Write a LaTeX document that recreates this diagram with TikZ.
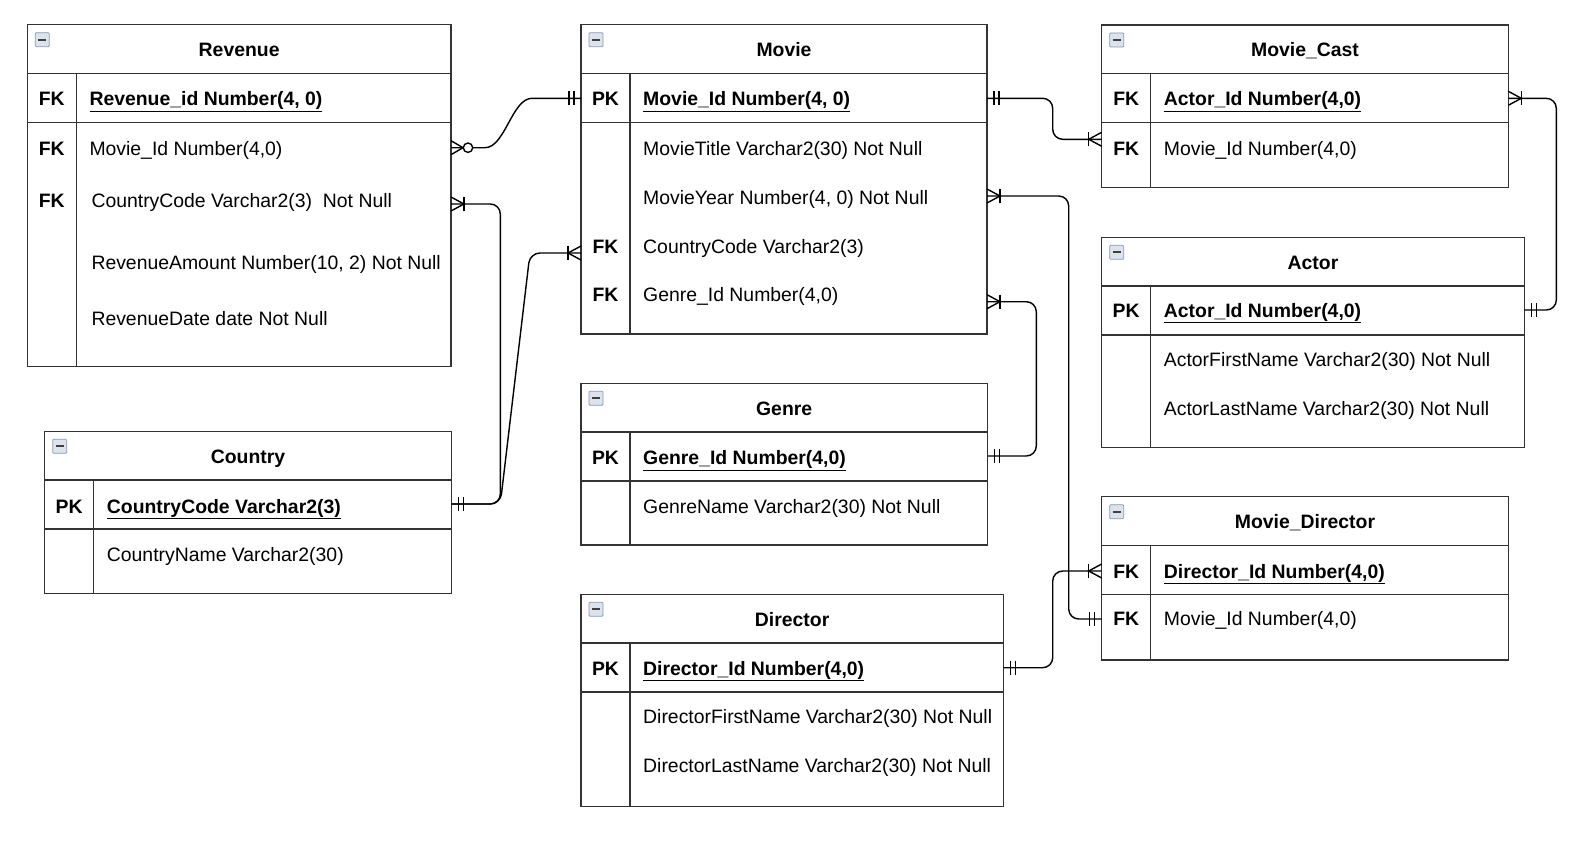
\documentclass[tikz,border=0pt]{standalone}
\usepackage{fontspec}
\setmainfont{Liberation Sans}
\usetikzlibrary{calc}
\definecolor{iconedge}{HTML}{8A9AB0}
\definecolor{iconfill}{HTML}{DCE3EC}
\definecolor{boxline}{HTML}{333333}
\newcommand\fs{\fontsize{19.4}{23}\selectfont}
\newcommand\ertable[6]{%
  \node[tbl, minimum width=#4pt, minimum height=#5pt] (#1) at (#2,#3) {};
  \draw[sep] ($(#1.north west)+(0,48.7)$) -- ($(#1.north east)+(0,48.7)$);
  \draw[sep] ($(#1.north west)+(0,97.5)$) -- ($(#1.north east)+(0,97.5)$);
  \draw[sep] ($(#1.north west)+(49,48.7)$) -- ($(#1.south west)+(49,0)$);
  \draw[icon] ($(#1.north west)+(8,8)$) rectangle ($(#1.north west)+(22,22)$);
  \draw[iconbar] ($(#1.north west)+(11,15)$) -- ($(#1.north west)+(19,15)$);
  \node[ttl] at ($(#1.north)+(0,32)$) {#6};
}
\newcommand\errow[5]{% table, cap-centre y, key, text, text x offset
  \node[key] at ($(#1.west |- 0,#2)+(24.5,7)$) {#3};
  \node[fld] at ($(#1.west |- 0,#2)+(#5,7)$) {#4};
}
\newcommand\erMany[2]{%
  \draw[ermk] ($(#1)+(0,-7)$) -- ($(#1)+(#2*13,0)$) -- ($(#1)+(0,7)$);
  \draw[ermk] ($(#1)+(#2*13,-7)$) -- ($(#1)+(#2*13,7)$);}
\newcommand\erZeroMany[2]{%
  \draw[ermk] ($(#1)+(0,-7)$) -- ($(#1)+(#2*12,0)$) -- ($(#1)+(0,7)$);
  \draw[ermk, fill=white] ($(#1)+(#2*17,0)$) circle[radius=4.7];}
\newcommand\erOne[2]{%
  \draw[ermk] ($(#1)+(#2*7,-7)$) -- ($(#1)+(#2*7,7)$);
  \draw[ermk] ($(#1)+(#2*12,-7)$) -- ($(#1)+(#2*12,7)$);}
\begin{document}
\begin{tikzpicture}[x=1pt,y=-1pt,
  tbl/.style={draw=boxline, line width=1.4pt, inner sep=0pt, outer sep=0pt, anchor=north west, rectangle},
  sep/.style={draw=boxline, line width=1.4pt},
  icon/.style={draw=iconedge, fill=iconfill, line width=0.8pt, rounded corners=1pt},
  iconbar/.style={draw=black!75, line width=2pt},
  ttl/.style={font=\fs\bfseries, anchor=base, inner sep=0pt},
  key/.style={font=\fs\bfseries, anchor=base, inner sep=0pt},
  fld/.style={font=\fs, anchor=base west, inner sep=0pt},
  conn/.style={draw=black, line width=1.4pt, rounded corners=10pt},
  ermk/.style={draw=black, line width=1.4pt}]
\useasboundingbox[fill=white] (0,0) rectangle (1596,843);

% ---------- tables ----------
\ertable{revenue}{27.3}{24.7}{423.7}{342}{Revenue}
\errow{revenue}{99}{FK}{\textbf{\underline{Revenue\_id Number(4, 0)}}}{62}
\errow{revenue}{148.3}{FK}{Movie\_Id Number(4,0)}{62}
\errow{revenue}{200}{FK}{CountryCode Varchar2(3)\ \ Not Null}{64}
\node[fld] at ($(revenue.west |- 0,262)+(64,7)$) {RevenueAmount Number(10, 2) Not Null};
\node[fld] at ($(revenue.west |- 0,318)+(64,7)$) {RevenueDate date Not Null};

\ertable{movie}{581}{24.7}{406}{309.3}{Movie}
\errow{movie}{99}{PK}{\textbf{\underline{Movie\_Id Number(4, 0)}}}{62}
\node[fld] at ($(movie.west |- 0,148)+(62,7)$) {MovieTitle Varchar2(30) Not Null};
\node[fld] at ($(movie.west |- 0,197)+(62,7)$) {MovieYear Number(4, 0) Not Null};
\errow{movie}{246}{FK}{CountryCode Varchar2(3)}{62}
\errow{movie}{294}{FK}{Genre\_Id Number(4,0)}{62}

\ertable{moviecast}{1101.7}{25}{406.6}{162.7}{Movie\_Cast}
\errow{moviecast}{99}{FK}{\textbf{\underline{Actor\_Id Number(4,0)}}}{62}
\errow{moviecast}{148.3}{FK}{Movie\_Id Number(4,0)}{62}

\ertable{actor}{1101.7}{237.3}{422.6}{210.4}{Actor}
\errow{actor}{310}{PK}{\textbf{\underline{Actor\_Id Number(4,0)}}}{62}
\node[fld] at ($(actor.west |- 0,359.3)+(62,7)$) {ActorFirstName Varchar2(30) Not Null};
\node[fld] at ($(actor.west |- 0,408.3)+(62,7)$) {ActorLastName Varchar2(30) Not Null};

\ertable{moviedirector}{1101.7}{496.7}{406.6}{163.3}{Movie\_Director}
\errow{moviedirector}{571}{FK}{\textbf{\underline{Director\_Id Number(4,0)}}}{62}
\errow{moviedirector}{618.5}{FK}{Movie\_Id Number(4,0)}{62}

\ertable{genre}{581}{383.3}{406.3}{161.7}{Genre}
\errow{genre}{457.5}{PK}{\textbf{\underline{Genre\_Id Number(4,0)}}}{62}
\node[fld] at ($(genre.west |- 0,506)+(62,7)$) {GenreName Varchar2(30) Not Null};

\ertable{director}{581}{594.3}{422.3}{212.4}{Director}
\errow{director}{668}{PK}{\textbf{\underline{Director\_Id Number(4,0)}}}{62}
\node[fld] at ($(director.west |- 0,716.5)+(62,7)$) {DirectorFirstName Varchar2(30) Not Null};
\node[fld] at ($(director.west |- 0,765)+(62,7)$) {DirectorLastName Varchar2(30) Not Null};

\ertable{country}{44.7}{431.3}{406.6}{162.4}{Country}
\errow{country}{506}{PK}{\textbf{\underline{CountryCode Varchar2(3)}}}{62}
\node[fld] at ($(country.west |- 0,554)+(62,7)$) {CountryName Varchar2(30)};

% ---------- connection points ----------
\coordinate (r1) at (revenue.east |- 0,147.7);
\coordinate (r2) at (revenue.east |- 0,204);
\coordinate (c1) at (country.east |- 0,504);
\coordinate (m1) at (movie.west |- 0,98.3);
\coordinate (m2) at (movie.west |- 0,253);
\coordinate (m1r) at (movie.east |- 0,98.3);
\coordinate (m3r) at (movie.east |- 0,196);
\coordinate (m4r) at (movie.east |- 0,301.7);
\coordinate (mc1) at (moviecast.east |- 0,98.3);
\coordinate (mc2) at (moviecast.west |- 0,139.3);
\coordinate (a1) at (actor.east |- 0,310);
\coordinate (g1) at (genre.east |- 0,456);
\coordinate (d1) at (director.east |- 0,667.7);
\coordinate (md1) at (moviedirector.west |- 0,571);
\coordinate (md2) at (moviedirector.west |- 0,619);

% ---------- connectors ----------
\draw[conn] (r1) -- ($(r1)+(24,0)$) .. controls +(30,0) and +(-30,0) .. ($(m1)+(-39,0)$) -- (m1);
\draw[conn] (r2) -| ($(c1)+(49,0)$) -- (c1);
\draw[conn] (c1) -- ($(c1)+(49,0)$) -- ($(m2)+(-51,0)$) -- (m2);
\draw[conn] (m1r) -| ($(mc2)+(-49,0)$) -- (mc2);
\draw[conn] (m3r) -| ($(md2)+(-33,0)$) -- (md2);
\draw[conn] (m4r) -| ($(g1)+(49,0)$) -- (g1);
\draw[conn] (d1) -| ($(md1)+(-49,0)$) -- (md1);
\draw[conn] (mc1) -| ($(a1)+(32,0)$) -- (a1);

% ---------- ends ----------
\erZeroMany{r1}{1}
\erOne{m1}{-1}
\erMany{r2}{1}
\erOne{c1}{1}
\erMany{m2}{-1}
\erOne{m1r}{1}
\erMany{mc2}{-1}
\erMany{m3r}{1}
\erOne{md2}{-1}
\erMany{m4r}{1}
\erOne{g1}{1}
\erOne{d1}{1}
\erMany{md1}{-1}
\erMany{mc1}{1}
\erOne{a1}{1}
\end{tikzpicture}
\end{document}
